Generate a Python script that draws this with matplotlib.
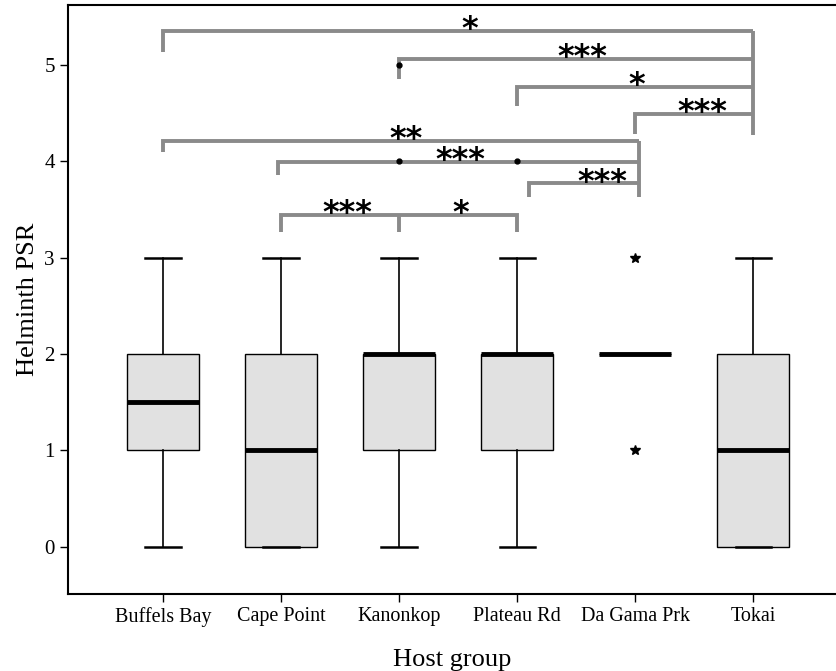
import matplotlib.pyplot as plt

# Host groups and box statistics
groups = ["Buffels Bay", "Cape Point", "Kanonkop", "Plateau Rd", "Da Gama Prk", "Tokai"]
medians = [1.5, 1, 2, 2, 2, 1]
q1 = [1, 0, 1, 1, 2, 0]
q3 = [2, 2, 2, 2, 2, 2]
whislo = [0, 0, 0, 0, 2, 0]
whishi = [3, 3, 3, 3, 2, 3]

# outliers (circles) and extremes (stars)
outliers = {2: [4, 5], 3: [4]}
extremes = {4: [1, 3]}

# significance brackets: left x, right x, height, left drop bottom
brackets = [
    (0.0, 5.0, 5.35, 5.13),
    (2.0, 5.0, 5.06, 4.85),
    (3.0, 5.0, 4.77, 4.57),
    (4.0, 5.0, 4.49, 4.28),
    (0.0, 4.03, 4.21, 4.09),
    (0.975, 4.03, 3.99, 3.86),
    (3.1, 4.03, 3.77, 3.63),
]
bracket_text = [
    (2.6, 5.35, "*"),
    (3.55, 5.06, "***"),
    (4.01, 4.77, "*"),
    (4.57, 4.49, "***"),
    (2.06, 4.21, "**"),
    (2.52, 3.99, "***"),
    (3.72, 3.77, "***"),
    (1.56, 3.44, "***"),
    (2.52, 3.44, "*"),
]

plt.rcParams["font.family"] = ["Liberation Serif", "DejaVu Serif"]

fig = plt.figure(figsize=(8.36, 6.71), dpi=100)
ax = fig.add_axes([68 / 836, 77 / 671, 768 / 836, 589 / 671])

pos = list(range(len(groups)))
stats = []
for i in pos:
    stats.append({"med": medians[i], "q1": q1[i], "q3": q3[i],
                  "whislo": whislo[i], "whishi": whishi[i], "fliers": []})

ax.bxp(stats, positions=pos, widths=0.61, patch_artist=True, showfliers=False,
       boxprops=dict(facecolor="#e1e1e1", edgecolor="black", linewidth=1),
       medianprops=dict(color="black", linewidth=3.5, solid_capstyle="butt"),
       whiskerprops=dict(color="black", linewidth=1.2),
       capprops=dict(color="black", linewidth=1.8),
       capwidths=0.3)

for i, vals in outliers.items():
    ax.plot([i] * len(vals), vals, "o", color="black", ms=3.5, zorder=4)
for i, vals in extremes.items():
    ax.plot([i] * len(vals), vals, "*", color="black", ms=7, zorder=4)

gray = "#8a8a8a"
for xl, xr, h, drop in brackets:
    ax.plot([xl, xl, xr], [drop, h, h], color=gray, lw=2.8, solid_capstyle="butt",
            solid_joinstyle="miter", zorder=3)
# right-side verticals
ax.plot([5.0, 5.0], [4.27, 5.35], color=gray, lw=2.8, solid_capstyle="butt", zorder=3)
ax.plot([4.03, 4.03], [3.63, 4.21], color=gray, lw=2.8, solid_capstyle="butt", zorder=3)
# lowest bracket with middle tick
ax.plot([1.0, 1.0, 3.0, 3.0], [3.27, 3.44, 3.44, 3.27], color=gray, lw=2.8,
        solid_joinstyle="miter", solid_capstyle="butt", zorder=3)
ax.plot([2.0, 2.0], [3.27, 3.44], color=gray, lw=2.8, solid_capstyle="butt", zorder=3)

for x, y, s in bracket_text:
    ax.text(x, y - 0.075, s, ha="center", va="baseline", fontsize=23,
            family="DejaVu Sans", fontweight="bold", color="black", zorder=5)

ax.set_xlim(-0.805, 5.7)
ax.set_ylim(-0.49, 5.62)
ax.set_xticks(pos)
ax.set_xticklabels(groups, fontsize=14.5)
ax.set_yticks(range(6))
ax.tick_params(axis="y", labelsize=15, direction="out", length=6, width=1)
ax.tick_params(axis="x", direction="out", length=6, width=1)
ax.set_xlabel("Host group", fontsize=19, labelpad=16)
ax.set_ylabel("Helminth PSR", fontsize=19, labelpad=4)
ax.spines["right"].set_visible(False)
for s in ["left", "top", "bottom"]:
    ax.spines[s].set_linewidth(1.5)

fig.savefig("out.png", dpi=100)
